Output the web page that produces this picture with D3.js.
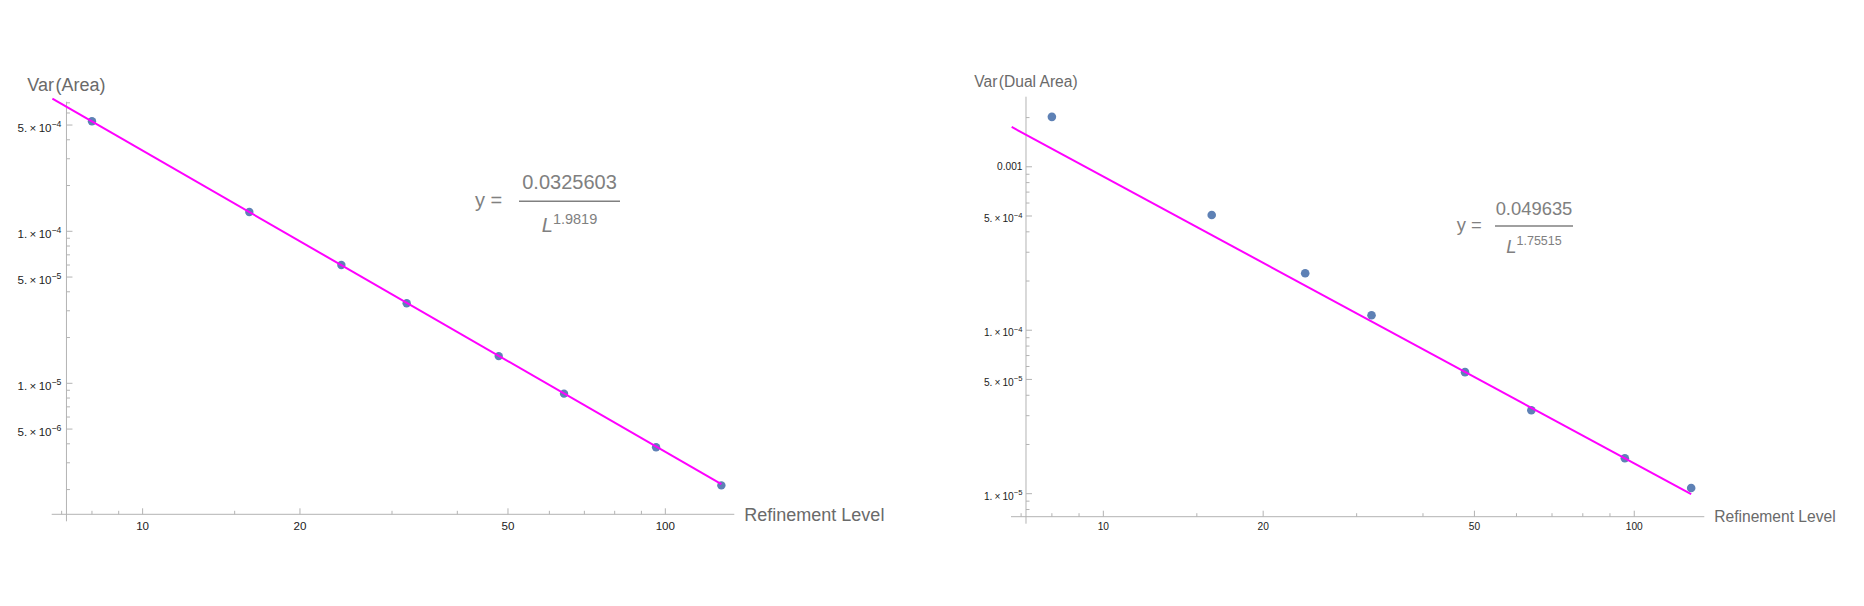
<!DOCTYPE html>
<html>
<head>
<meta charset="utf-8">
<script src="https://cdn.jsdelivr.net/npm/d3@7"></script>
<style>
  body { margin: 0; background: #fff; }
  text { font-family: "Liberation Sans", Arial, Helvetica, sans-serif; }
</style>
</head>
<body>
<svg id="chart" width="1864" height="606"></svg>
<script>
// refinement levels (x) and the two measured variances
var levels = [8, 16, 24, 32, 48, 64, 96, 128];
var varArea = [5.3e-4, 1.34e-4, 6.0e-5, 3.36e-5, 1.51e-5, 8.55e-6, 3.8e-6, 2.13e-6];
var varDualArea = [2.02e-3, 5.07e-4, 2.23e-4, 1.235e-4, 5.54e-5, 3.24e-5, 1.647e-5, 1.084e-5];

// power law fits y = a / L^b
var areaFit = [0.0325603, 1.9819];
var dualFit = [0.049635, 1.75515];

// ticks
var xMajorTicks = [10, 20, 50, 100];
var xTickLabels = ["10", "20", "50", "100"];
var xMinorTicks = [7, 8, 9, 15, 30, 40, 60, 70, 80, 90];

var areaMajorTicks = [5e-4, 1e-4, 5e-5, 1e-5, 5e-6];
var areaTickLabels = ["5.×10^-4", "1.×10^-4", "5.×10^-5", "1.×10^-5", "5.×10^-6"];
var areaMinorTicks = [7e-4, 6e-4, 4e-4, 3e-4, 2e-4, 9e-5, 8e-5, 7e-5, 6e-5, 4e-5, 3e-5, 2e-5,
                      9e-6, 8e-6, 7e-6, 6e-6, 4e-6, 3e-6, 2e-6];

var dualMajorTicks = [1e-3, 5e-4, 1e-4, 5e-5, 1e-5];
var dualTickLabels = ["0.001", "5.×10^-4", "1.×10^-4", "5.×10^-5", "1.×10^-5"];
var dualMinorTicks = [2e-3, 9e-4, 8e-4, 7e-4, 6e-4, 4e-4, 3e-4, 2e-4, 9e-5, 8e-5, 7e-5, 6e-5,
                      4e-5, 3e-5, 2e-5, 9e-6, 8e-6];

var axisColor = "#b3b3b3";
var labelColor = "#6a6a6a";
var tickTextColor = "#222";
var eqColor = "#808080";
var pointColor = "#5e81b5";
var fitColor = "#ff00ff";

var svg = d3.select("#chart");

var panels = [
  {
    values: varArea, fit: areaFit, yMajor: areaMajorTicks, yMinor: areaMinorTicks, yLabels: areaTickLabels,
    title: "Var(Area)", xRange: [51.7, 734.3], yRange: [514.3, 101.7], yDomain: [1.375e-6, 7.12e-4],
    tickFont: 11.6, titleFont: 18, eqFont: 20, supFont: 14.5, r: 4.2, yLabelGap: 5,
    eq: {x0: 519, x1: 620, y: 201.3, yx: 475, numUp: 12.5, denDown: 30.4, supUp: 7.5}
  },
  {
    values: varDualArea, fit: dualFit, yMajor: dualMajorTicks, yMinor: dualMinorTicks, yLabels: dualTickLabels,
    title: "Var(Dual Area)", xRange: [1011, 1704.3], yRange: [516.7, 96.7], yDomain: [7.23e-6, 2.684e-3],
    tickFont: 10.2, titleFont: 15.6, eqFont: 18.4, supFont: 12.5, r: 4.3, yLabelGap: 3.5,
    eq: {x0: 1495, x1: 1573, y: 226, yx: 1456.7, numUp: 11, denDown: 27.3, supUp: 8}
  }
];

var xDomain = [6.7, 135.5];
var yAxisAt = 7.15;
var fitFrom = 6.72;

panels.forEach(function(p) {
  var x = d3.scaleLog().domain(xDomain).range(p.xRange);
  var y = d3.scaleLog().domain(p.yDomain).range(p.yRange);
  var g = svg.append("g");

  var axisY = p.yRange[0];
  var axisX = x(yAxisAt);

  // axes lines
  g.append("line")
    .attr("x1", p.xRange[0]).attr("x2", p.xRange[1])
    .attr("y1", axisY).attr("y2", axisY)
    .attr("stroke", axisColor).attr("stroke-width", 1);
  g.append("line")
    .attr("x1", axisX).attr("x2", axisX)
    .attr("y1", p.yRange[1]).attr("y2", axisY + 7)
    .attr("stroke", axisColor).attr("stroke-width", 1);

  // x ticks (inward)
  g.selectAll(".xmaj").data(xMajorTicks).enter().append("line")
    .attr("x1", function(d) { return x(d); }).attr("x2", function(d) { return x(d); })
    .attr("y1", axisY).attr("y2", axisY - 6)
    .attr("stroke", axisColor);
  g.selectAll(".xmin").data(xMinorTicks).enter().append("line")
    .attr("x1", function(d) { return x(d); }).attr("x2", function(d) { return x(d); })
    .attr("y1", axisY).attr("y2", axisY - 3.5)
    .attr("stroke", axisColor);
  g.selectAll(".xlab").data(xMajorTicks).enter().append("text")
    .attr("x", function(d) { return x(d); })
    .attr("y", 530)
    .attr("text-anchor", "middle")
    .attr("font-size", p.tickFont)
    .attr("fill", tickTextColor)
    .text(function(d, i) { return xTickLabels[i]; });

  // y ticks (inward)
  g.selectAll(".ymaj").data(p.yMajor).enter().append("line")
    .attr("x1", axisX).attr("x2", axisX + 6)
    .attr("y1", function(d) { return y(d); }).attr("y2", function(d) { return y(d); })
    .attr("stroke", axisColor);
  g.selectAll(".ymin").data(p.yMinor).enter().append("line")
    .attr("x1", axisX).attr("x2", axisX + 3.5)
    .attr("y1", function(d) { return y(d); }).attr("y2", function(d) { return y(d); })
    .attr("stroke", axisColor);

  p.yMajor.forEach(function(v, i) {
    var parts = p.yLabels[i].split("^");
    var t = g.append("text")
      .attr("x", axisX - p.yLabelGap)
      .attr("text-anchor", "end")
      .attr("font-size", p.tickFont)
      .attr("fill", tickTextColor);
    if (parts.length == 1) {
      t.attr("y", y(v) + p.tickFont * 0.35).text(parts[0]);
    } else {
      t.attr("y", y(v) + p.tickFont * 0.6);
      t.append("tspan").text(parts[0].replace("×", "\u2009×\u2009"));
      t.append("tspan")
        .attr("dy", -p.tickFont * 0.45)
        .attr("font-size", p.tickFont * 0.75)
        .text(parts[1].replace("-", "\u2212"));
    }
  });

  // axis titles
  g.append("text")
    .attr("x", axisX).attr("y", p.yRange[1] - p.titleFont * 0.62)
    .attr("text-anchor", "middle")
    .attr("font-size", p.titleFont)
    .attr("fill", labelColor)
    .text(p.title.replace("(", "\u200a("));
  g.append("text")
    .attr("x", p.xRange[1] + 10).attr("y", axisY + p.titleFont * 0.36)
    .attr("font-size", p.titleFont)
    .attr("fill", labelColor)
    .text("Refinement Level");

  // data points
  g.selectAll(".pt").data(levels).enter().append("circle")
    .attr("cx", function(d) { return x(d); })
    .attr("cy", function(d, i) { return y(p.values[i]); })
    .attr("r", p.r)
    .attr("fill", pointColor);

  // fitted power law (straight on log-log axes)
  var ends = [fitFrom, levels[levels.length - 1]];
  var line = d3.line()
    .x(function(d) { return x(d); })
    .y(function(d) { return y(p.fit[0] / Math.pow(d, p.fit[1])); });
  g.append("path")
    .attr("d", line(ends))
    .attr("fill", "none")
    .attr("stroke", fitColor)
    .attr("stroke-width", 2);

  // equation
  var e = p.eq;
  var cx = (e.x0 + e.x1) / 2;
  g.append("text")
    .attr("x", e.yx).attr("y", e.y + p.eqFont * 0.28)
    .attr("font-size", p.eqFont)
    .attr("fill", eqColor)
    .text("y =");
  g.append("line")
    .attr("x1", e.x0).attr("x2", e.x1)
    .attr("y1", e.y).attr("y2", e.y)
    .attr("stroke", eqColor).attr("stroke-width", 1.5);
  g.append("text")
    .attr("x", cx).attr("y", e.y - e.numUp)
    .attr("text-anchor", "middle")
    .attr("font-size", p.eqFont)
    .attr("fill", eqColor)
    .text(String(p.fit[0]));
  var den = g.append("text")
    .attr("x", cx).attr("y", e.y + e.denDown)
    .attr("text-anchor", "middle")
    .attr("font-size", p.eqFont)
    .attr("fill", eqColor);
  den.append("tspan").attr("font-style", "italic").text("L");
  den.append("tspan")
    .attr("dy", -e.supUp)
    .attr("font-size", p.supFont)
    .text(String(p.fit[1]));
});
</script>
</body>
</html>
